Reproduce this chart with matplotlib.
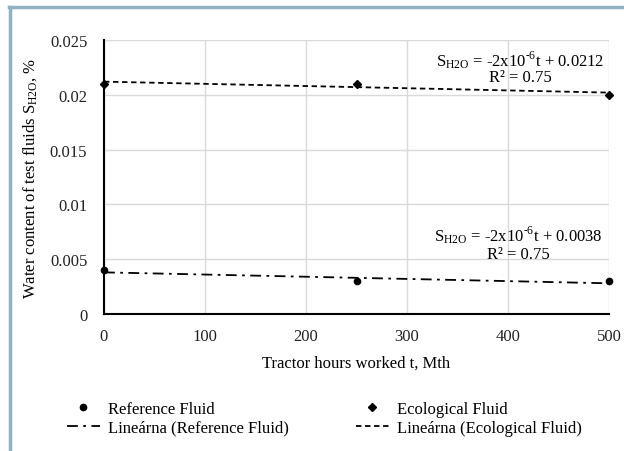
import matplotlib
matplotlib.use("Agg")
import matplotlib.pyplot as plt
import numpy as np

plt.rcParams['font.family'] = ['Liberation Serif', 'DejaVu Serif']
plt.rcParams['mathtext.fontset'] = 'custom'
plt.rcParams['mathtext.rm'] = 'Liberation Serif'

hours = [0, 250, 500]
ref_fluid = [0.004, 0.003, 0.003]
eco_fluid = [0.021, 0.021, 0.020]
ref_trend = [0.0038, -2e-6]
eco_trend = [0.0212, -2e-6]
xticks = [0, 100, 200, 300, 400, 500]
yticks = [0, 0.005, 0.01, 0.015, 0.02, 0.025]
ytick_labels = ["0", "0.005", "0.01", "0.015", "0.02", "0.025"]

FS = 12

fig = plt.figure(figsize=(6.24, 4.52), dpi=100)
fig.patch.set_facecolor('white')
border = '#8fb1c2'
fig.add_artist(plt.Line2D([0.016, 0.016], [0, 0.982], color=border, lw=2.5, transform=fig.transFigure))
fig.add_artist(plt.Line2D([0.015, 1.0], [0.982, 0.982], color=border, lw=2.5, transform=fig.transFigure))

ax = fig.add_axes([104/624, 1-315/452, 505/624, 274/452])
ax.grid(True, color='#d9d9d9', lw=1)
ax.set_axisbelow(True)
for s in ['top', 'right']:
    ax.spines[s].set_visible(False)
for s in ['left', 'bottom']:
    ax.spines[s].set_linewidth(1.5)
    ax.spines[s].set_color('black')

tx = np.array([hours[0], hours[-1]])
h_ref, = ax.plot(hours, ref_fluid, 'o', color='black', ms=4.5, label='Reference Fluid', zorder=4, clip_on=False)
h_eco, = ax.plot(hours, eco_fluid, 'D', color='black', ms=4, label='Ecological Fluid', zorder=4, clip_on=False)
h_refl, = ax.plot(tx, ref_trend[0] + ref_trend[1]*tx, color='black', lw=1.3, linestyle=(0, (6, 3, 1.5, 3)),
        label='Lineárna (Reference Fluid)', clip_on=False)
h_ecol, = ax.plot(tx, eco_trend[0] + eco_trend[1]*tx, color='black', lw=1.3, linestyle=(0, (3, 2)),
        label='Lineárna (Ecological Fluid)', clip_on=False)

ax.set_xlim(0, 500)
ax.set_ylim(0, 0.025)
ax.set_xticks(xticks)
ax.set_yticks(yticks)
ax.set_yticklabels(ytick_labels)
ax.tick_params(length=0, labelsize=FS, pad=12, colors='#222222')
ax.tick_params(axis='x', pad=10)

ax.set_xlabel('Tractor hours worked t, Mth', fontsize=FS, labelpad=8)
ax.set_ylabel(r'Water content of test fluids $\mathregular{S_{H2O}}$, %', fontsize=FS, labelpad=8)

eq1 = r'$\mathregular{S_{H2O}}$ = -2x10$^{\mathregular{‐6}}$t + 0.0212'
eq2 = r'$\mathregular{S_{H2O}}$ = -2x10$^{\mathregular{‐6}}$t + 0.0038'
ax.text(412, 0.02327, eq1, fontsize=FS, ha='center', va='center')
ax.text(412, 0.02160, 'R² = 0.75', fontsize=FS, ha='center', va='center')
ax.text(410, 0.0073, eq2, fontsize=FS, ha='center', va='center')
ax.text(410, 0.00550, 'R² = 0.75', fontsize=FS, ha='center', va='center')

handles = [h_ref, h_refl, h_eco, h_ecol]
labels = [h.get_label() for h in handles]
fig.legend(handles, labels, loc='center', bbox_to_anchor=(0.52, 0.072), ncol=2, frameon=False,
           fontsize=FS, handlelength=2.0, handletextpad=0.5, columnspacing=4.0, labelspacing=0.15)

fig.savefig('out.png', dpi=100)
